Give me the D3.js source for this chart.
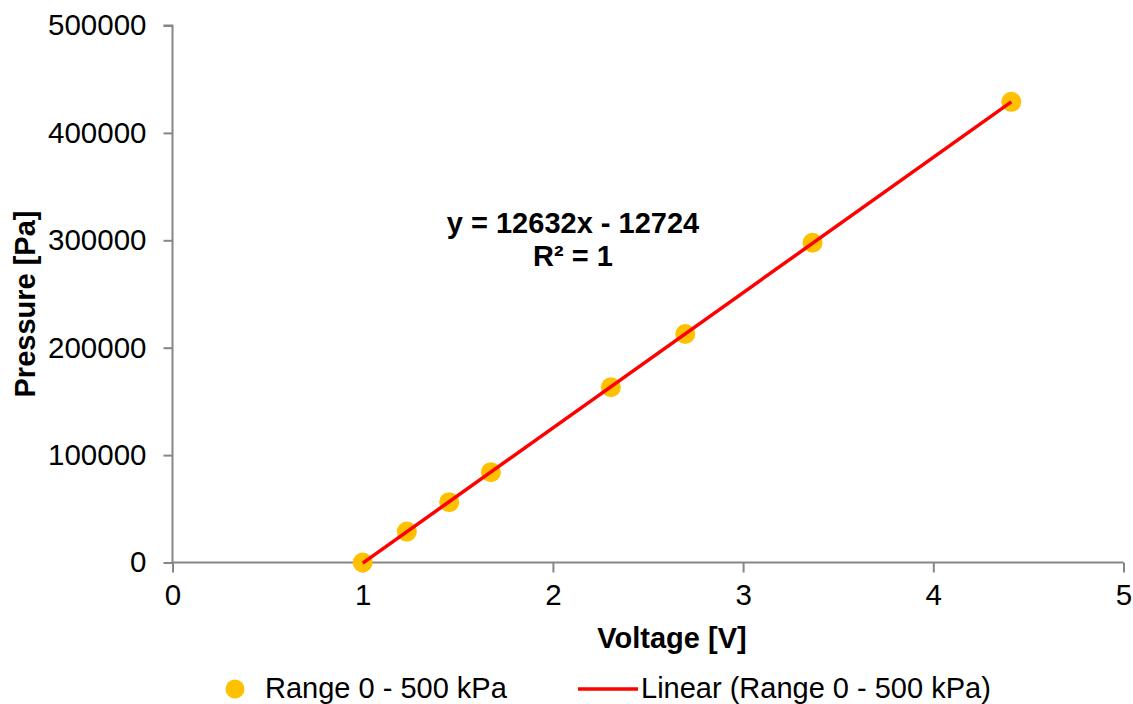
<!DOCTYPE html>
<html>
<head>
<meta charset="utf-8">
<script src="https://cdn.jsdelivr.net/npm/d3@7"></script>
<style>
  html, body { margin: 0; padding: 0; background: #fff; }
  svg text { font-family: "Liberation Sans", Arial, sans-serif; fill: #000; }
</style>
</head>
<body>
<svg id="chart" width="1133" height="704"></svg>
<script>
const voltage = [1.0, 1.232, 1.455, 1.674, 2.305, 2.696, 3.365, 4.41];
const pressure = [0, 28800, 56200, 84100, 163200, 212800, 297700, 428900];
const xTicks = [0, 1, 2, 3, 4, 5];
const yTicks = [0, 100000, 200000, 300000, 400000, 500000];
const seriesName = "Range 0 - 500 kPa";
const trendName = "Linear (Range 0 - 500 kPa)";
const equationLines = ["y = 12632x - 12724", "R² = 1"];

const svg = d3.select("#chart");
const x = d3.scaleLinear().domain([0, 5]).range([172.5, 1123.5]);
const y = d3.scaleLinear().domain([0, 500000]).range([562.5, 25.5]);
const axisColor = "#868686";

// y axis
const yAxis = svg.append("g").attr("transform", `translate(${x(0)},0)`)
  .call(d3.axisLeft(y).tickValues(yTicks).tickFormat(d3.format("d")).tickSize(9).tickPadding(17));
// x axis
const xAxis = svg.append("g").attr("transform", `translate(0,${y(0)})`)
  .call(d3.axisBottom(x).tickValues(xTicks).tickFormat(d3.format("d")).tickSize(10).tickPadding(12));
[yAxis, xAxis].forEach(g => {
  g.select(".domain").attr("stroke", axisColor).attr("stroke-width", 2);
  g.selectAll(".tick line").attr("stroke", axisColor).attr("stroke-width", 2);
  g.selectAll(".tick text").attr("font-size", 29.5).attr("fill", "#000")
    .style("font-family", '"Liberation Sans", Arial, sans-serif');
});
yAxis.select(".domain").attr("d", `M-9,${y(500000)}H0V${y(0)}`);
xAxis.select(".domain").attr("d", `M${x(0)},0H${x(5)}`);

// points
const pts = voltage.map((v, i) => ({ v, p: pressure[i] }));
svg.append("g").selectAll("circle").data(pts).join("circle")
  .attr("cx", d => x(d.v)).attr("cy", d => y(d.p)).attr("r", 10)
  .attr("fill", "#FFC000");

// linear trendline via least squares
const mx = d3.mean(voltage), my = d3.mean(pressure);
const slope = d3.sum(pts, d => (d.v - mx) * (d.p - my)) / d3.sum(pts, d => (d.v - mx) ** 2);
const icpt = my - slope * mx;
const xr = d3.extent(voltage);
svg.append("line")
  .attr("x1", x(xr[0])).attr("y1", y(slope * xr[0] + icpt))
  .attr("x2", x(xr[1])).attr("y2", y(slope * xr[1] + icpt))
  .attr("stroke", "#FF0000").attr("stroke-width", 3.5);

// equation
svg.append("text").attr("x", 573).attr("y", 233).attr("text-anchor", "middle")
  .attr("font-size", 29).attr("font-weight", "bold").text(equationLines[0]);
svg.append("text").attr("x", 573).attr("y", 266).attr("text-anchor", "middle")
  .attr("font-size", 29).attr("font-weight", "bold").text(equationLines[1]);

// axis titles
svg.append("text").attr("x", 672).attr("y", 648).attr("text-anchor", "middle")
  .attr("font-size", 29).attr("font-weight", "bold").text("Voltage [V]");
svg.append("text").attr("transform", "translate(35,304) rotate(-90)").attr("text-anchor", "middle")
  .attr("font-size", 29).attr("font-weight", "bold").text("Pressure [Pa]");

// legend
svg.append("circle").attr("cx", 235).attr("cy", 689).attr("r", 9.5).attr("fill", "#FFC000");
svg.append("text").attr("x", 265).attr("y", 698).attr("font-size", 29).text(seriesName);
svg.append("line").attr("x1", 578).attr("x2", 638).attr("y1", 689).attr("y2", 689)
  .attr("stroke", "#FF0000").attr("stroke-width", 3.5);
svg.append("text").attr("x", 641).attr("y", 698).attr("font-size", 29).text(trendName);
</script>
</body>
</html>
